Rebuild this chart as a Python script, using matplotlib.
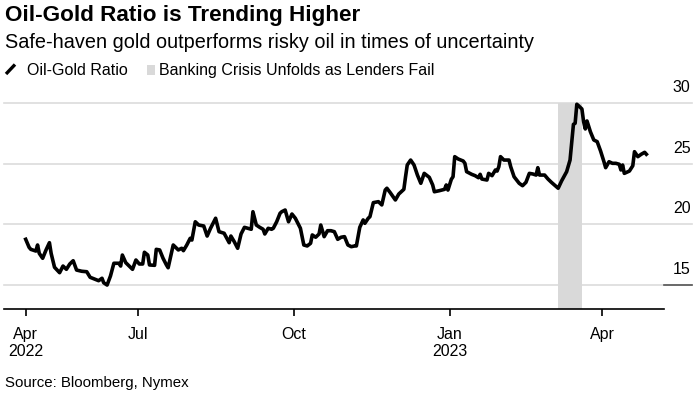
import matplotlib
matplotlib.use("Agg")
import matplotlib.pyplot as plt
import matplotlib.dates as mdates
import pandas as pd

# ---------------- data ----------------
dates = [
    "2022-04-26", "2022-04-28", "2022-04-29", "2022-05-02", "2022-05-03", "2022-05-04",
    "2022-05-06", "2022-05-08", "2022-05-10", "2022-05-11", "2022-05-13", "2022-05-16",
    "2022-05-18", "2022-05-20", "2022-05-22", "2022-05-24", "2022-05-26", "2022-05-29",
    "2022-06-01", "2022-06-03", "2022-06-06", "2022-06-08", "2022-06-10", "2022-06-11",
    "2022-06-13", "2022-06-15", "2022-06-17", "2022-06-20", "2022-06-21", "2022-06-22",
    "2022-06-24", "2022-06-26", "2022-06-28", "2022-06-30", "2022-07-02", "2022-07-04",
    "2022-07-05", "2022-07-07", "2022-07-08", "2022-07-11", "2022-07-12", "2022-07-14",
    "2022-07-16", "2022-07-18", "2022-07-19", "2022-07-21", "2022-07-22", "2022-07-25",
    "2022-07-27", "2022-07-28", "2022-07-30", "2022-08-01", "2022-08-02", "2022-08-04",
    "2022-08-06", "2022-08-09", "2022-08-11", "2022-08-13", "2022-08-16", "2022-08-18",
    "2022-08-21", "2022-08-24", "2022-08-25", "2022-08-27", "2022-08-29", "2022-08-31",
    "2022-09-02", "2022-09-04", "2022-09-06", "2022-09-07", "2022-09-09", "2022-09-11",
    "2022-09-13", "2022-09-14", "2022-09-16", "2022-09-18", "2022-09-19", "2022-09-21",
    "2022-09-23", "2022-09-24", "2022-09-26", "2022-09-28", "2022-09-30", "2022-10-02",
    "2022-10-05", "2022-10-07", "2022-10-09", "2022-10-11", "2022-10-12", "2022-10-14",
    "2022-10-16", "2022-10-17", "2022-10-19", "2022-10-21", "2022-10-23", "2022-10-25",
    "2022-10-27", "2022-10-29", "2022-10-31", "2022-11-02", "2022-11-04", "2022-11-06",
    "2022-11-07", "2022-11-09", "2022-11-11", "2022-11-12", "2022-11-14", "2022-11-15",
    "2022-11-17", "2022-11-20", "2022-11-22", "2022-11-24", "2022-11-25", "2022-11-27",
    "2022-11-30", "2022-12-02", "2022-12-05", "2022-12-06", "2022-12-07", "2022-12-09",
    "2022-12-11", "2022-12-13", "2022-12-15", "2022-12-17", "2022-12-19", "2022-12-20",
    "2022-12-22", "2022-12-23", "2022-12-26", "2022-12-29", "2022-12-30", "2022-12-31",
    "2023-01-02", "2023-01-03", "2023-01-04", "2023-01-06", "2023-01-09", "2023-01-10",
    "2023-01-11", "2023-01-14", "2023-01-16", "2023-01-18", "2023-01-19", "2023-01-20",
    "2023-01-23", "2023-01-24", "2023-01-26", "2023-01-28", "2023-01-29", "2023-01-30",
    "2023-01-31", "2023-02-02", "2023-02-05", "2023-02-06", "2023-02-08", "2023-02-11",
    "2023-02-13", "2023-02-15", "2023-02-17", "2023-02-19", "2023-02-21", "2023-02-22",
    "2023-02-23", "2023-02-26", "2023-02-28", "2023-03-02", "2023-03-05", "2023-03-06",
    "2023-03-08", "2023-03-11", "2023-03-13", "2023-03-14", "2023-03-15", "2023-03-16",
    "2023-03-17", "2023-03-18", "2023-03-20", "2023-03-21", "2023-03-22", "2023-03-23",
    "2023-03-25", "2023-03-27", "2023-03-29", "2023-03-31", "2023-04-02", "2023-04-03",
    "2023-04-05", "2023-04-07", "2023-04-09", "2023-04-11", "2023-04-12", "2023-04-13",
    "2023-04-14", "2023-04-17", "2023-04-19", "2023-04-20", "2023-04-22", "2023-04-24",
    "2023-04-26", "2023-04-27",
]
ratio = [
    18.76, 18.10, 17.93, 17.79, 18.29, 17.60,
    17.19, 17.88, 18.48, 17.60, 16.45, 16.00,
    16.55, 16.28, 16.72, 16.99, 16.22, 16.12,
    16.08, 15.62, 15.45, 15.34, 15.54, 15.17,
    14.98, 15.73, 16.78, 16.78, 16.55, 17.46,
    16.83, 16.55, 16.28, 17.05, 16.72, 16.72,
    17.69, 17.46, 16.64, 16.61, 17.93, 17.88,
    17.19, 16.64, 16.41, 17.65, 18.29, 17.88,
    18.02, 17.82, 18.29, 18.84, 18.70, 20.21,
    19.94, 19.86, 19.03, 19.67, 20.50, 19.39,
    19.26, 18.48, 19.03, 18.56, 18.02, 19.20,
    19.75, 19.67, 19.59, 21.04, 19.94, 19.75,
    19.59, 19.20, 19.67, 19.59, 19.67, 20.21,
    20.91, 21.04, 21.18, 20.21, 20.85, 20.50,
    19.67, 18.29, 18.21, 18.43, 19.12, 18.93,
    19.20, 19.94, 18.98, 19.47, 19.47, 19.39,
    18.76, 18.93, 18.98, 18.29, 18.15, 18.21,
    18.21, 19.75, 20.36, 20.08, 20.50, 20.63,
    21.79, 21.87, 21.60, 22.83, 22.98, 22.61,
    22.01, 22.50, 22.89, 23.93, 24.90, 25.31,
    24.90, 24.07, 23.39, 24.21, 23.99, 23.88,
    23.25, 22.69, 22.78, 22.89, 23.25, 22.83,
    23.72, 23.93, 25.59, 25.40, 25.23, 25.04,
    24.35, 24.13, 24.02, 23.85, 24.13, 23.74,
    23.66, 24.21, 24.02, 24.49, 24.40, 24.76,
    25.59, 25.31, 25.31, 24.76, 23.93, 23.39,
    23.19, 23.47, 24.21, 24.16, 24.07, 24.68,
    24.07, 24.07, 23.74, 23.47, 23.11, 22.98,
    23.58, 24.35, 25.31, 26.83, 28.26, 28.35,
    29.92, 29.80, 29.53, 28.48, 27.88, 28.54,
    27.65, 26.97, 26.83, 26.06, 25.17, 24.68,
    25.17, 25.04, 25.04, 24.96, 24.49, 24.90,
    24.21, 24.40, 24.84, 26.00, 25.59, 25.79,
    25.95, 25.79,
]
crisis_start = "2023-03-06"
crisis_end = "2023-03-20"

y_ticks = [15, 20, 25, 30]
x_tick_dates = ["2022-04-26", "2022-07-01", "2022-10-01", "2023-01-01", "2023-04-01"]
x_tick_labels = ["Apr\n2022", "Jul", "Oct", "Jan\n2023", "Apr"]

title = "Oil-Gold Ratio is Trending Higher"
subtitle = "Safe-haven gold outperforms risky oil in times of uncertainty"
legend_line = "Oil-Gold Ratio"
legend_area = "Banking Crisis Unfolds as Lenders Fail"
source = "Source: Bloomberg, Nymex"

# ---------------- figure ----------------
plt.rcParams['font.family'] = ['Liberation Sans', 'DejaVu Sans']
W, H = 699, 396
fig = plt.figure(figsize=(W / 100, H / 100), dpi=100)

def fx(px):
    return px / W

def fy(py):
    return 1 - py / H

ax_left, ax_right, ax_top, ax_bottom = 4, 692, 103.3, 309
ax = fig.add_axes([fx(ax_left), fy(ax_bottom), (ax_right - ax_left) / W, (ax_bottom - ax_top) / H])

x = pd.to_datetime(dates)
ax.axvspan(pd.Timestamp(crisis_start), pd.Timestamp(crisis_end), ymin=0, ymax=1,
           color="#d9d9d9", lw=0, zorder=1)
for v in y_ticks:
    ax.axhline(v, color="#dcdcdc", lw=1.2, zorder=0.5, clip_on=False)
    ax.annotate(str(v), xy=(1, v), xycoords=("axes fraction", "data"),
                xytext=(-1, 7.8), textcoords="offset points",
                ha="right", va="baseline", fontsize=11.5, color="#000000")
# darker short segment at the 15 line near the label
ax.plot([0.96, 1.0], [15, 15], transform=ax.get_yaxis_transform(), color="#555555",
        lw=1.2, zorder=0.6, clip_on=False)

ax.plot(x, ratio, color="black", lw=2.6, solid_joinstyle="round", zorder=3, clip_on=False)

ax.set_xlim(pd.Timestamp("2022-04-13 05:00"), pd.Timestamp("2023-05-23 22:00"))
ax.set_ylim(13.0, 30.0)

for s in ["top", "right", "left"]:
    ax.spines[s].set_visible(False)
ax.spines["bottom"].set_linewidth(1.2)
ax.spines["bottom"].set_color("black")
ax.spines["bottom"].set_bounds(mdates.date2num(pd.Timestamp("2022-04-13 05:00")),
                               mdates.date2num(pd.Timestamp("2023-05-07 12:00")))
ax.set_yticks([])
ax.set_xticks(pd.to_datetime(x_tick_dates))
ax.set_xticklabels(x_tick_labels, fontsize=11.5, linespacing=1.2)
ax.tick_params(axis="x", length=5, width=1.2, color="black", pad=8)

# ---------------- texts ----------------
fig.text(fx(5), fy(21), title, fontsize=16.2, fontweight="bold", va="baseline", ha="left")
fig.text(fx(5), fy(47.5), subtitle, fontsize=14.3, va="baseline", ha="left")

# legend
fig.add_artist(plt.Line2D([fx(6), fx(15)], [fy(74), fy(64.5)], color="black", lw=2.4,
                          solid_capstyle="butt", transform=fig.transFigure))
fig.text(fx(27), fy(75), legend_line, fontsize=11.5, va="baseline", ha="left")
fig.add_artist(plt.Rectangle((fx(146.7), fy(75)), (155 - 146.7) / W, (75 - 64.5) / H,
                             color="#d9d9d9", lw=0, transform=fig.transFigure))
fig.text(fx(159), fy(75), legend_area, fontsize=11.5, va="baseline", ha="left")

fig.text(fx(5), fy(387), source, fontsize=10.8, va="baseline", ha="left")

fig.savefig("out.png", dpi=100)
